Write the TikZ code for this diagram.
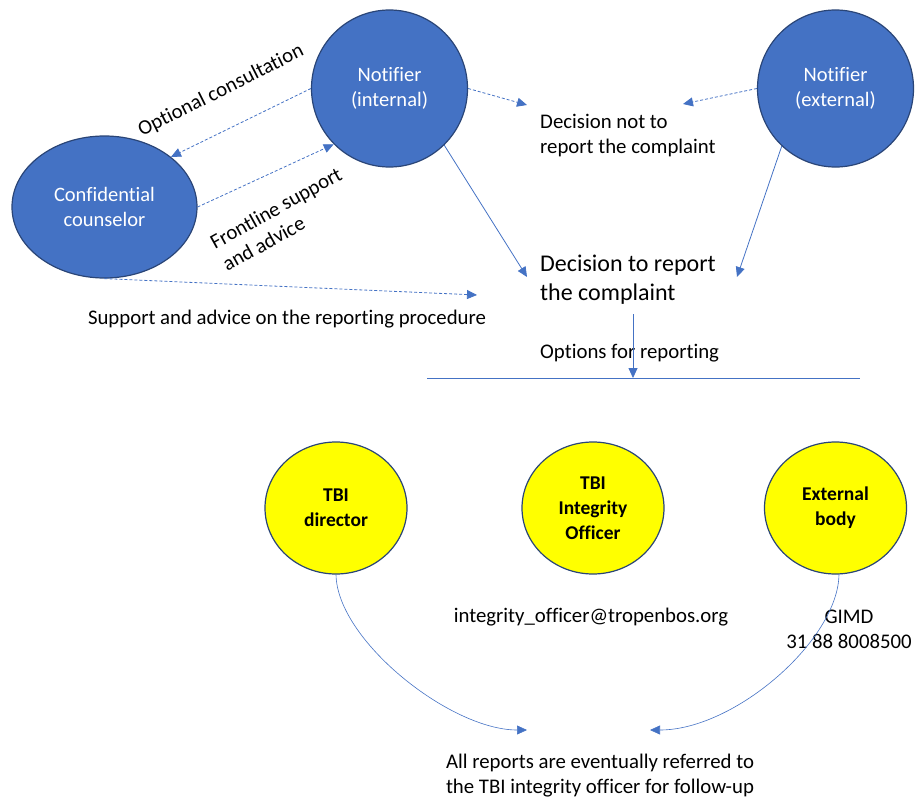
\documentclass[tikz,border=0pt]{standalone}
\usepackage{fontspec}
\setmainfont{Carlito}[Ligatures=NoCommon]
\usetikzlibrary{arrows.meta,shapes.geometric}
\definecolor{oblue}{HTML}{4472C4}
\definecolor{odark}{HTML}{2A4577}
\definecolor{oyellow}{HTML}{FFFF00}
\begin{document}
\begin{tikzpicture}[x=1pt,y=-1pt,
  bluecirc/.style={ellipse, draw=odark, line width=1.2pt, fill=oblue, text=white,
    font=\fontsize{20.5}{25}\selectfont, align=center, inner sep=0pt},
  yellowcirc/.style={ellipse, draw=odark, line width=1.2pt, fill=oyellow, text=black,
    font=\fontsize{19.5}{25}\selectfont\bfseries, align=center, inner sep=0pt,
    minimum width=142pt, minimum height=132pt},
  lbl/.style={font=\fontsize{20.8}{25}\selectfont, inner sep=0pt, text=black},
  biglbl/.style={font=\fontsize{24}{29}\selectfont, inner sep=0pt, text=black},
  conn/.style={draw=oblue, line width=0.8pt, -{Triangle[length=10pt,width=9pt]}},
  dconn/.style={conn, dash pattern=on 3pt off 2pt},
  plainline/.style={draw=oblue, line width=0.8pt}
]
\useasboundingbox (0,0) rectangle (915,800);

% top circles
\node[bluecirc, minimum width=156pt, minimum height=157pt] (ni) at (389.5,88.5) {Notifier\\(internal)};
\node[bluecirc, minimum width=156pt, minimum height=157pt] (ne) at (835.5,88.5) {Notifier\\(external)};
\node[bluecirc, minimum width=185pt, minimum height=142pt] (cc) at (104.5,207) {Confidential\\counselor};

% text labels
\node[lbl, rotate=26.7] (optc) at (221,91) {Optional consultation};
\node[lbl, rotate=29, align=left] (front) at (282,219) {Frontline support\\and advice};
\node[lbl, align=left, anchor=west] (dnot) at (540,136) {Decision not to\\report the complaint};
\node[biglbl, align=left, anchor=west] (dyes) at (540,279.5) {Decision to report\\the complaint};
\node[lbl] (supp) at (287,319) {Support and advice on the reporting procedure};
\node[lbl, anchor=west] (opts) at (540,353) {Options for reporting};

% free ends
\coordinate (notL) at (527,105);
\coordinate (notR) at (683,104);
\coordinate (yesL) at (527,277);
\coordinate (yesR) at (737,277);
\coordinate (suppE) at (477,295);
\coordinate (optTop) at (633,314);
\coordinate (optBot) at (633,378);
\coordinate (hlL) at (427,378);
\coordinate (hlR) at (860,378);
\coordinate (allL) at (527,730);
\coordinate (allR) at (650,730);

% connectors top
\draw[dconn] (ni.west) -- (cc.37);
\draw[dconn] (cc.east) -- (ni.225);
\draw[dconn] (ni.east) -- (notL);
\draw[dconn] (ne.west) -- (notR);
\draw[conn] (ni.-46) -- (yesL);
\draw[conn] (ne.227) -- (yesR);
\draw[dconn] (cc.south) -- (suppE);
\draw[conn] (optTop) -- (optBot);
\draw[plainline] (hlL) -- (hlR);

% bottom circles
\node[yellowcirc] (dir) at (336,508) {TBI\\director};
\node[yellowcirc] (tio) at (593,508) {TBI\\Integrity\\Officer};
\node[yellowcirc] (ext) at (835.5,508) {External\\body};

\node[lbl] (mail) at (591,617) {integrity\_officer@tropenbos.org};
\node[lbl, align=center] (gimd) at (849,629.5) {GIMD\\31 88 8008500};
\node[lbl, align=center] (all) at (600,775.5) {All reports are eventually referred to\\the TBI integrity officer for follow-up};

\draw[conn, line width=0.6pt] (dir.south) .. controls (337,640) and (450,730) .. (allL);
\draw[conn, line width=0.6pt] (ext.-87) .. controls (838,640) and (735,730) .. (allR);
\end{tikzpicture}
\end{document}
